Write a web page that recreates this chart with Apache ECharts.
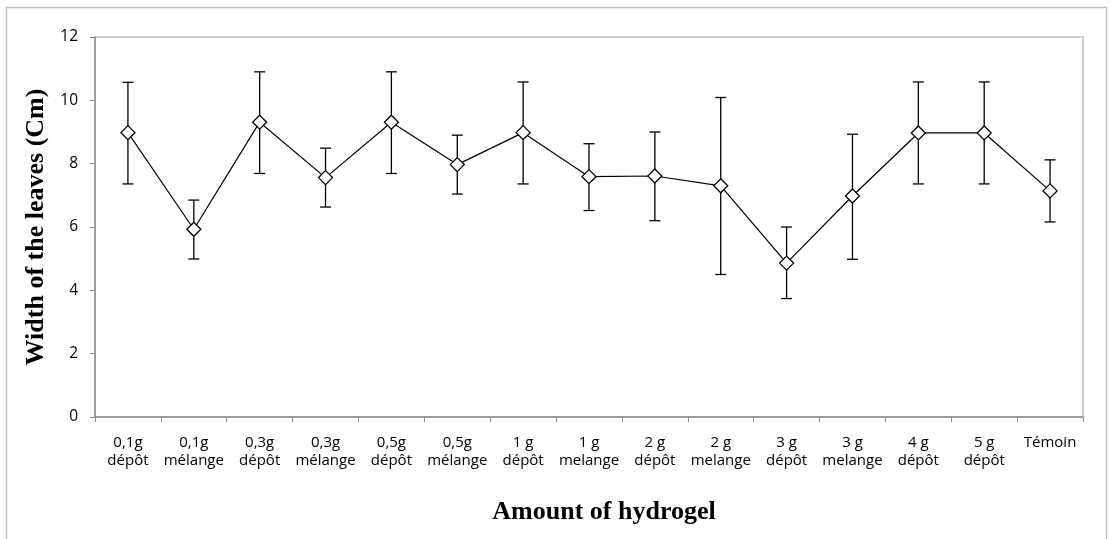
<!DOCTYPE html>
<html>
<head>
<meta charset="utf-8">
<script src="https://cdn.jsdelivr.net/npm/echarts@6/dist/echarts.min.js"></script>
<style>
  html, body { margin: 0; padding: 0; background: #fff; }
  #panel { width: 1111px; height: 539px; }
</style>
</head>
<body>
<div id="panel"></div>
<script>
// categories (amount of hydrogel)
const categories = [
  '0,1g\ndépôt', '0,1g\nmélange', '0,3g\ndépôt', '0,3g\nmélange',
  '0,5g\ndépôt', '0,5g\nmélange', '1 g\ndépôt', '1 g\nmelange',
  '2 g\ndépôt', '2 g\nmelange', '3 g\ndépôt', '3 g\nmelange',
  '4 g\ndépôt', '5 g\ndépôt', 'Témoin'
];
// mean width of the leaves (Cm)
const widths = [8.98, 5.93, 9.31, 7.56, 9.31, 7.97, 8.98, 7.59, 7.61, 7.30, 4.86, 6.98, 8.97, 8.97, 7.14];
// error bar ends
const errLow = [7.36, 4.99, 7.69, 6.63, 7.69, 7.04, 7.36, 6.52, 6.20, 4.50, 3.74, 4.98, 7.36, 7.36, 6.16];
const errHigh = [10.57, 6.85, 10.90, 8.49, 10.90, 8.90, 10.58, 8.63, 9.00, 10.09, 6.00, 8.93, 10.58, 10.58, 8.12];
const yTicks = { min: 0, max: 12, interval: 2 };

const myChart = echarts.init(document.getElementById('panel'));

const errData = widths.map((v, i) => [i, errLow[i], errHigh[i]]);

const option = {
  backgroundColor: '#ffffff',
  animation: false,
  graphic: [
    {
      // cadre extérieur
      type: 'rect',
      shape: { x: 6.5, y: 7.5, width: 1100, height: 560 },
      style: { fill: 'none', stroke: '#bfbfbf', lineWidth: 1.5 },
      silent: true,
      z: -1
    }
  ],
  grid: {
    left: 95,
    right: 28,
    top: 37,
    bottom: 122,
    show: true,
    borderColor: '#c4c4c4',
    borderWidth: 1.5
  },
  xAxis: {
    type: 'category',
    data: categories,
    boundaryGap: true,
    name: 'Amount of hydrogel',
    nameLocation: 'middle',
    nameGap: 82,
    nameTextStyle: {
      fontFamily: 'Liberation Serif',
      fontWeight: 'bold',
      fontSize: 26,
      color: '#000',
      padding: [0, 0, 0, 30]
    },
    axisLine: { lineStyle: { color: '#8c8c8c', width: 1.5 } },
    axisTick: { show: true, alignWithLabel: false, length: 5, lineStyle: { color: '#8c8c8c' } },
    axisLabel: {
      interval: 0,
      margin: 17,
      fontFamily: 'Open Sans',
      fontSize: 15,
      lineHeight: 18,
      color: '#000',
      verticalAlign: 'top'
    },
    splitLine: { show: false }
  },
  yAxis: {
    type: 'value',
    min: yTicks.min,
    max: yTicks.max,
    interval: yTicks.interval,
    name: 'Width of the leaves (Cm)',
    nameLocation: 'middle',
    nameGap: 44,
    nameTextStyle: {
      fontFamily: 'Liberation Serif',
      fontWeight: 'bold',
      fontSize: 26,
      color: '#000'
    },
    axisLine: { show: true, lineStyle: { color: '#8c8c8c', width: 1.5 } },
    axisTick: { show: true, length: 5, lineStyle: { color: '#8c8c8c' } },
    axisLabel: {
      margin: 17,
      fontFamily: 'Open Sans',
      fontSize: 15.5,
      color: '#000'
    },
    splitLine: { show: false }
  },
  series: [
    {
      name: 'erreur',
      type: 'custom',
      data: errData,
      encode: { x: 0, y: [1, 2] },
      z: 2,
      renderItem: function (params, api) {
        const idx = api.value(0);
        const lo = api.coord([idx, api.value(1)]);
        const hi = api.coord([idx, api.value(2)]);
        const cap = 5.5;
        const st = { stroke: '#000', lineWidth: 1.3 };
        return {
          type: 'group',
          children: [
            { type: 'line', shape: { x1: lo[0], y1: lo[1], x2: hi[0], y2: hi[1] }, style: st },
            { type: 'line', shape: { x1: hi[0] - cap, y1: hi[1], x2: hi[0] + cap, y2: hi[1] }, style: st },
            { type: 'line', shape: { x1: lo[0] - cap, y1: lo[1], x2: lo[0] + cap, y2: lo[1] }, style: st }
          ]
        };
      }
    },
    {
      name: 'largeur',
      type: 'line',
      data: widths,
      z: 3,
      symbol: 'diamond',
      symbolSize: 14,
      lineStyle: { color: '#000', width: 1.2 },
      itemStyle: { color: '#fff', borderColor: '#000', borderWidth: 1.3 }
    }
  ]
};

myChart.setOption(option);
</script>
</body>
</html>
